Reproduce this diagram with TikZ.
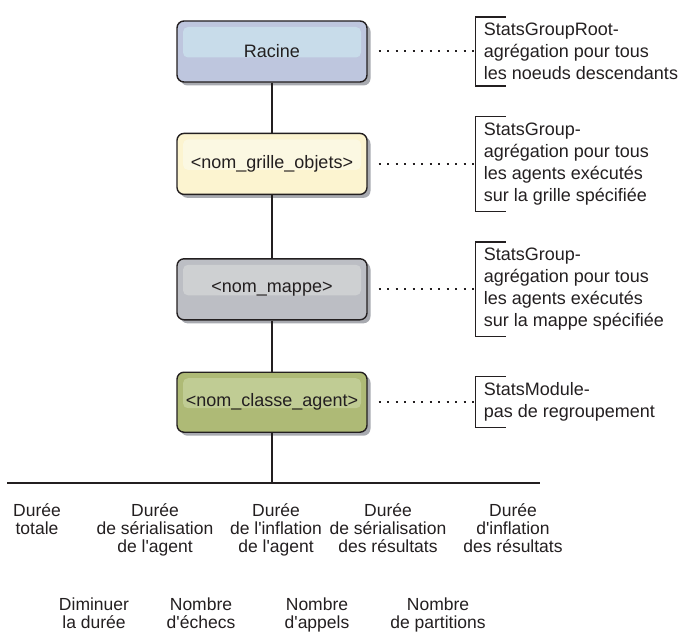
\documentclass[tikz,border=0pt]{standalone}
\usepackage{fontspec}
\setmainfont{Liberation Sans}[Ligatures=TeXOff]
\usetikzlibrary{positioning,shadows}
\definecolor{ink}{RGB}{35,31,32}\definecolor{shade}{RGB}{168,170,176}
\definecolor{rootfill}{RGB}{190,198,222}\definecolor{roothl}{RGB}{200,220,234}
\definecolor{gridfill}{RGB}{252,244,208}\definecolor{gridhl}{RGB}{251,248,226}
\definecolor{mapfill}{RGB}{188,190,196}\definecolor{maphl}{RGB}{206,208,210}
\definecolor{agentfill}{RGB}{174,186,118}\definecolor{agenthl}{RGB}{192,204,148}
\tikzset{every node/.style={font=\fontsize{18}{22}\selectfont,text=ink},
box/.style 2 args={draw=ink,line width=1.4pt,rounded corners=7pt,minimum width=190pt,minimum height=61pt,fill=#1,
 drop shadow={shadow xshift=3.5pt,shadow yshift=-3.5pt,fill=shade,opacity=1},
 path picture={\fill[#2,rounded corners=5pt] ([shift={(6pt,-6pt)}]path picture bounding box.north west) rectangle ([shift={(-6pt,-6pt)}]path picture bounding box.east);}},
note/.style={align=left,inner xsep=8pt,inner ysep=6pt},bracket/.style={ink,line width=1.4pt},
leader/.style={ink,line width=2pt,dash pattern=on 2pt off 6.5pt},link/.style={ink,line width=1.6pt},
stat/.style={align=center,inner sep=0pt,anchor=north,font=\fontsize{17.5}{18}\selectfont}}

\begin{document}
\begin{tikzpicture}[x=1pt,y=-1pt]
\useasboundingbox (0,0) rectangle (687,636);
\node[box={rootfill}{roothl}] (root) at (272,51.5){Racine};
\node[box={gridfill}{gridhl},below=50pt of root] (grid){<nom\_grille\_objets>};
\node[box={mapfill}{maphl},below=63pt of grid] (map){<nom\_mappe>};
\node[box={agentfill}{agenthl},below=51pt of map,minimum height=60pt] (agent){<nom\_classe\_agent>};
\draw[link] (root.south)--(grid.north);\draw[link] (grid.south)--(map.north);\draw[link] (map.south)--(agent.north);
\coordinate (left) at (7,483);\coordinate (right) at (540,483);
\draw[link,line width=2pt] (left)--(right);\draw[link] (agent.south)--(agent.south|-left);
\node[note,right=108pt of root] (rootnote){StatsGroupRoot-\\agrégation pour tous\\les noeuds descendants};
\node[note,right=108pt of grid] (gridnote){StatsGroup-\\agrégation pour tous\\les agents exécutés\\sur la grille spécifiée};
\node[note,right=108pt of map] (mapnote){StatsGroup-\\agrégation pour tous\\les agents exécutés\\sur la mappe spécifiée};
\node[note,right=108pt of agent] (agentnote){StatsModule-\\pas de regroupement};
\foreach \n in {root,grid,map,agent}{
 \draw[leader] ([xshift=11pt]\n.east)--(\n.east-|\n note.west);
 \draw[bracket] ([xshift=30pt]\n note.north west)-|(\n note.south west)--++(30,0);}
\foreach \x/\t [count=\i] in {37/{Durée\\totale},155/{Durée\\de sérialisation\\de l'agent},276/{Durée\\de l'inflation\\de l'agent},388/{Durée\\de sérialisation\\des résultats},513/{Durée\\d'inflation\\des résultats}}
 \node[stat] (time\i) at (\x,503){\t};
\foreach \x/\t [count=\i] in {94/{Diminuer\\la durée},201/{Nombre\\d'échecs},317/{Nombre\\d'appels},438/{Nombre\\de partitions}}
 \node[stat] (count\i) at (\x,598){\t};
\end{tikzpicture}
\end{document}
